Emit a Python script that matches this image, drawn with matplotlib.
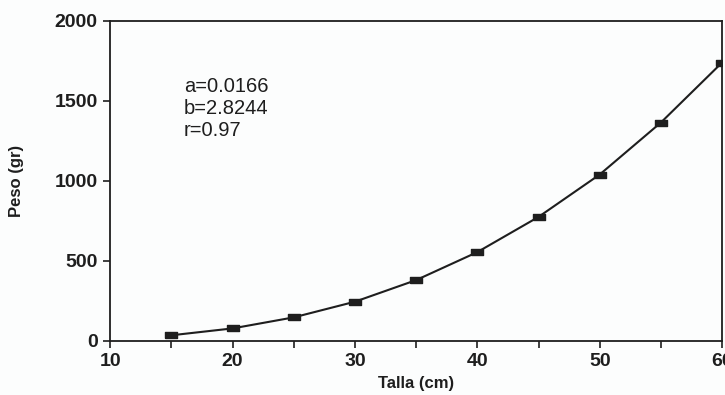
import numpy as np
import matplotlib.pyplot as plt
from matplotlib.ticker import MultipleLocator

plt.rcParams['font.family'] = ['Liberation Sans', 'DejaVu Sans']

# length-weight data
talla = [15, 20, 25, 30, 35, 40, 45, 50, 55, 60]          # cm
peso = [35, 78, 147, 245, 380, 555, 775, 1040, 1365, 1740]  # gr
params = ['a=0.0166', 'b=2.8244', 'r=0.97']

ink = '#1e1e1e'
fig = plt.figure(figsize=(7.25, 3.95), dpi=100, facecolor='#fcfdfd')
ax = fig.add_axes([0.152, 0.137, 0.844, 0.810])
ax.set_facecolor('#fcfdfd')

# flat rectangular markers
rect = [(-1, -0.55), (1, -0.55), (1, 0.55), (-1, 0.55), (-1, -0.55)]
ax.plot(talla, peso, color=ink, lw=1.5, marker=rect, ms=9,
        mfc=ink, mec=ink, solid_joinstyle='round')

ax.set_xlim(10, 60)
ax.set_ylim(0, 2000)
ax.xaxis.set_major_locator(MultipleLocator(10))
ax.xaxis.set_minor_locator(MultipleLocator(5))
ax.yaxis.set_major_locator(MultipleLocator(500))

for s in ax.spines.values():
    s.set_linewidth(1.3)
    s.set_color(ink)

ax.tick_params(which='both', direction='out', color=ink, width=1.2)
ax.tick_params(which='major', length=5, labelsize=14, pad=4, labelcolor=ink)
ax.tick_params(which='minor', length=5)
for lab in ax.get_xticklabels() + ax.get_yticklabels():
    lab.set_fontweight('bold')

ax.set_xlabel('Talla (cm)', fontsize=12, fontweight='bold', color=ink, labelpad=4)
ax.set_ylabel('Peso (gr)', fontsize=12, fontweight='bold', color=ink, labelpad=22)

ax.text(16.0, 1650, '\n'.join(params), fontsize=14.5, color=ink,
        va='top', ha='left', linespacing=1.2)

fig.savefig('out.png', dpi=100, facecolor=fig.get_facecolor())
